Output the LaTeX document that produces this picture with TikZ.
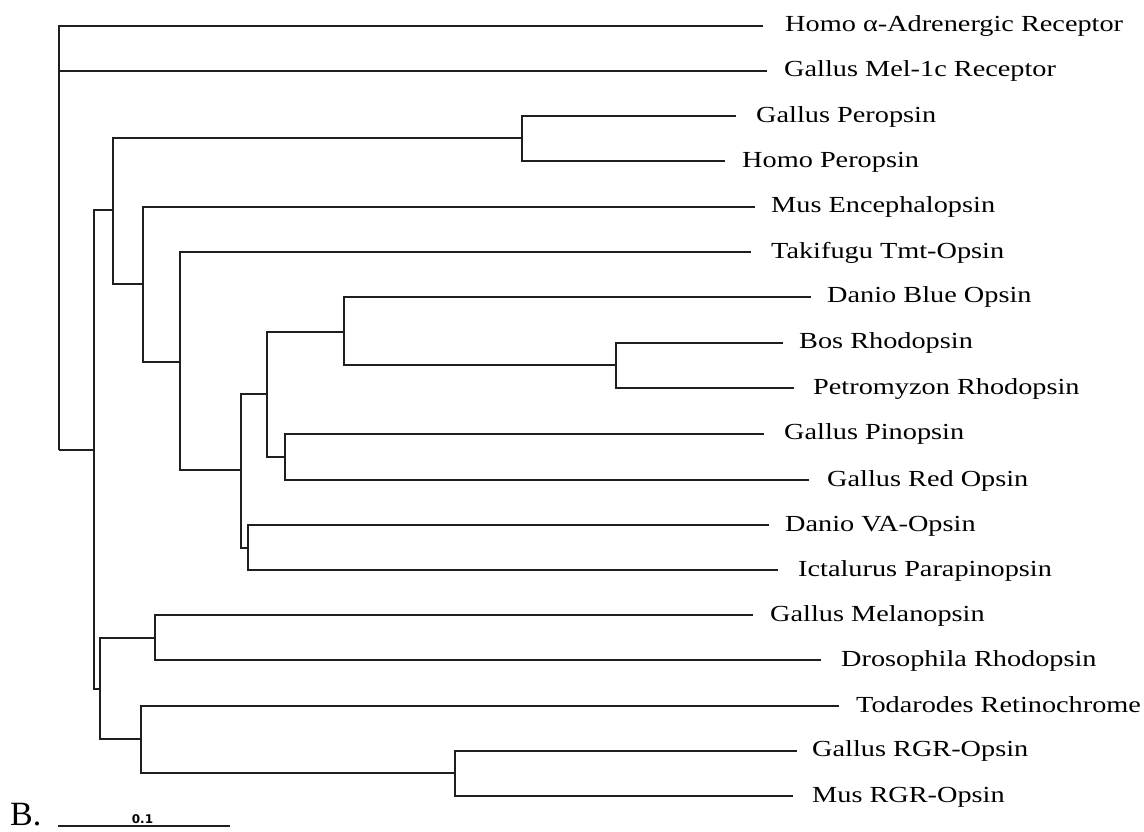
\documentclass[tikz,border=0pt]{standalone}
\usepackage{fontspec}
\setmainfont{Liberation Serif}[FakeStretch=1.23]
\newfontfamily\plainserif{Liberation Serif}
\newfontfamily\barfont{DejaVu Sans}
\begin{document}
\begin{tikzpicture}[x=1pt,y=-1pt,
  branch/.style={line width=2pt, draw=black!88, line join=miter},
  leaflabel/.style={anchor=base west, inner sep=0pt, font=\fontsize{23}{23}\selectfont},
  bigletter/.style={anchor=base west, inner sep=0pt, font=\plainserif\fontsize{34}{34}\selectfont},
  scalelabel/.style={inner sep=0pt, font=\barfont\bfseries\fontsize{12}{12}\selectfont}]
\useasboundingbox (0,0) rectangle (1144,831);
% internal nodes
\coordinate (R)   at (58.6,450);
\coordinate (N1)  at (93.8,450);
\coordinate (N2)  at (113,210);
\coordinate (Pe)  at (522,138);
\coordinate (N3)  at (142.7,283.5);
\coordinate (N4)  at (180,361.5);
\coordinate (N5)  at (241,470.3);
\coordinate (N6)  at (266.7,393.8);
\coordinate (N7)  at (344.4,331.5);
\coordinate (Bo)  at (616,365.3);
\coordinate (N8)  at (285,456.8);
\coordinate (N9)  at (248,547.5);
\coordinate (N10) at (100.3,688.5);
\coordinate (N11) at (155,637.5);
\coordinate (N12) at (140.8,739.2);
\coordinate (RG)  at (454.7,773.2);
% leaf ends
\coordinate (lA)   at (763,25.7);
\coordinate (lMel) at (767,70.5);
\coordinate (lGP)  at (736,116);
\coordinate (lHP)  at (725,161);
\coordinate (lME)  at (755,206.7);
\coordinate (lTT)  at (751,252.3);
\coordinate (lDB)  at (811,296.7);
\coordinate (lBR)  at (783,342.7);
\coordinate (lPR)  at (794,388);
\coordinate (lGPi) at (764,433.5);
\coordinate (lGR)  at (809,480);
\coordinate (lVA)  at (769,525);
\coordinate (lIP)  at (778,570);
\coordinate (lGM)  at (753,615);
\coordinate (lDR)  at (821,660);
\coordinate (lTR)  at (839,706);
\coordinate (lGRG) at (797,750.5);
\coordinate (lMRG) at (793,796);
% branches
\draw[branch] (R) |- (lA);
\draw[branch] (R) |- (lMel);
\draw[branch] (R) -- (N1);
\draw[branch] (N1) |- (N2);
\draw[branch] (N1) |- (N10);
\draw[branch] (N2) |- (Pe);
\draw[branch] (N2) |- (N3);
\draw[branch] (Pe) |- (lGP);
\draw[branch] (Pe) |- (lHP);
\draw[branch] (N3) |- (lME);
\draw[branch] (N3) |- (N4);
\draw[branch] (N4) |- (lTT);
\draw[branch] (N4) |- (N5);
\draw[branch] (N5) |- (N6);
\draw[branch] (N5) |- (N9);
\draw[branch] (N6) |- (N7);
\draw[branch] (N6) |- (N8);
\draw[branch] (N7) |- (lDB);
\draw[branch] (N7) |- (Bo);
\draw[branch] (Bo) |- (lBR);
\draw[branch] (Bo) |- (lPR);
\draw[branch] (N8) |- (lGPi);
\draw[branch] (N8) |- (lGR);
\draw[branch] (N9) |- (lVA);
\draw[branch] (N9) |- (lIP);
\draw[branch] (N10) |- (N11);
\draw[branch] (N10) |- (N12);
\draw[branch] (N11) |- (lGM);
\draw[branch] (N11) |- (lDR);
\draw[branch] (N12) |- (lTR);
\draw[branch] (N12) |- (RG);
\draw[branch] (RG) |- (lGRG);
\draw[branch] (RG) |- (lMRG);
% labels
\node[leaflabel] (tA)   at (785,31.7)  {Homo α-Adrenergic Receptor};
\node[leaflabel] (tMel) at (784,76.5)  {Gallus Mel-1c Receptor};
\node[leaflabel] (tGP)  at (756,122)   {Gallus Peropsin};
\node[leaflabel] (tHP)  at (742,167)   {Homo Peropsin};
\node[leaflabel] (tME)  at (771,212.7) {Mus Encephalopsin};
\node[leaflabel] (tTT)  at (771,258.3) {Takifugu Tmt-Opsin};
\node[leaflabel] (tDB)  at (827,302.7) {Danio Blue Opsin};
\node[leaflabel] (tBR)  at (799,348.7) {Bos Rhodopsin};
\node[leaflabel] (tPR)  at (813,394)   {Petromyzon Rhodopsin};
\node[leaflabel] (tGPi) at (784,439.5) {Gallus Pinopsin};
\node[leaflabel] (tGR)  at (827,486)   {Gallus Red Opsin};
\node[leaflabel] (tVA)  at (785,531)   {Danio VA-Opsin};
\node[leaflabel] (tIP)  at (798,576)   {Ictalurus Parapinopsin};
\node[leaflabel] (tGM)  at (770,621)   {Gallus Melanopsin};
\node[leaflabel] (tDR)  at (841,666)   {Drosophila Rhodopsin};
\node[leaflabel] (tTR)  at (856,712)   {Todarodes Retinochrome};
\node[leaflabel] (tGRG) at (812,756.5) {Gallus RGR-Opsin};
\node[leaflabel] (tMRG) at (812,802)   {Mus RGR-Opsin};
% panel letter and scale bar
\node[bigletter] (B) at (10,825) {B.};
\coordinate (sb1) at (58,826);
\coordinate (sb2) at (230,826);
\draw[branch] (sb1) -- (sb2);
\node[scalelabel] (sbl) at (142.5,819.5) {0.1};
\end{tikzpicture}
\end{document}
